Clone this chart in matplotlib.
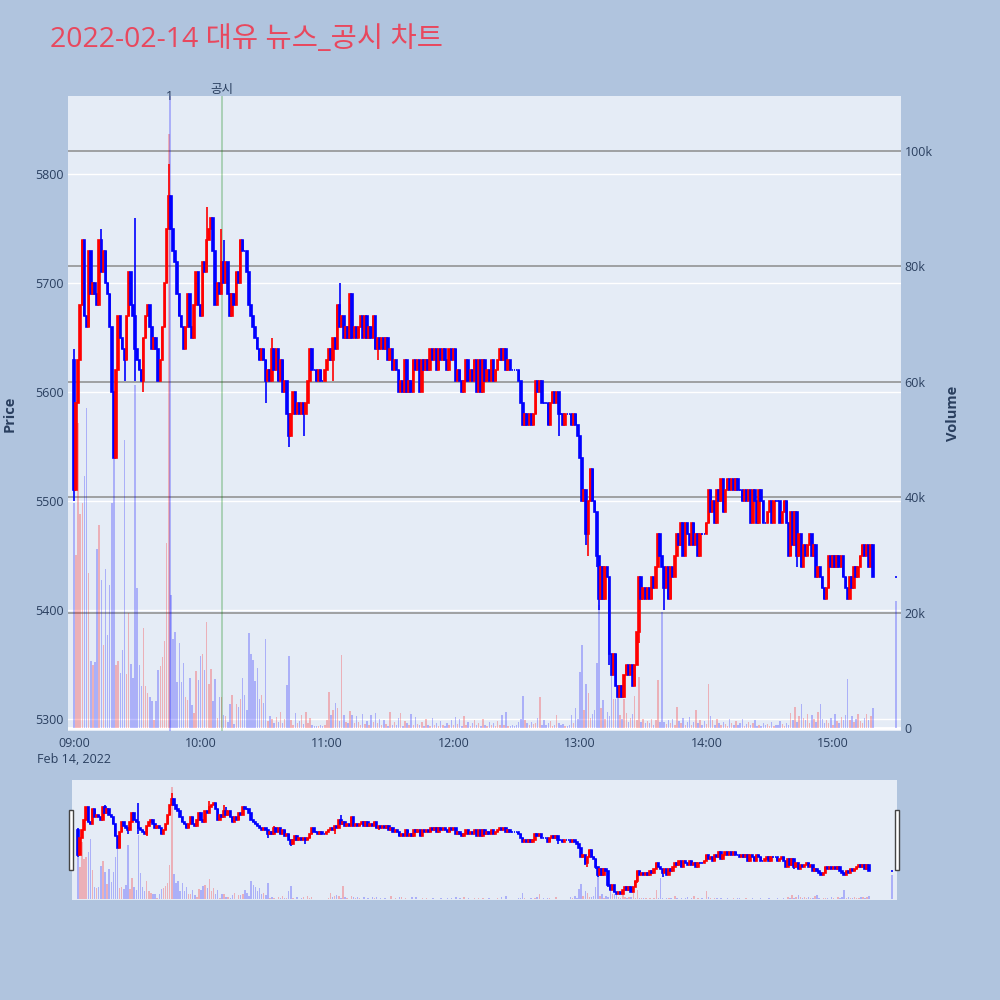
import matplotlib
matplotlib.use("Agg")
import matplotlib.pyplot as plt
import matplotlib.transforms as mtransforms
from matplotlib.patches import Rectangle
import numpy as np

plt.rcParams['font.family'] = ['Open Sans', 'Noto Sans CJK KR', 'DejaVu Sans']

TITLE = '2022-02-14 대유 뉴스_공시 차트'

# 1-minute candles from 09:00 (minute 0) to 15:19, plus the 15:30 closing auction
first_open = 5630
closes = [
    5510, 5590, 5630, 5680, 5740, 5670, 5660, 5730, 5690, 5700,
    5690, 5680, 5740, 5710, 5730, 5700, 5690, 5660, 5600, 5540,
    5620, 5670, 5650, 5640, 5630, 5670, 5710, 5680, 5670, 5640,
    5630, 5620, 5610, 5650, 5670, 5680, 5660, 5640, 5650, 5640,
    5610, 5630, 5660, 5700, 5750, 5780, 5750, 5730, 5720, 5690,
    5670, 5660, 5640, 5660, 5690, 5660, 5650, 5680, 5710, 5680,
    5670, 5720, 5710, 5740, 5750, 5760, 5730, 5680, 5700, 5690,
    5720, 5700, 5720, 5690, 5670, 5690, 5680, 5710, 5700, 5740,
    5730, 5730, 5710, 5680, 5670, 5660, 5650, 5640, 5630, 5640,
    5630, 5610, 5620, 5610, 5640, 5620, 5640, 5610, 5630, 5600,
    5610, 5580, 5560, 5580, 5600, 5580, 5590, 5580, 5590, 5580,
    5590, 5610, 5640, 5620, 5620, 5610, 5620, 5610, 5610, 5620,
    5630, 5640, 5630, 5650, 5640, 5680, 5660, 5670, 5650, 5660,
    5650, 5690, 5650, 5660, 5650, 5660, 5670, 5650, 5670, 5650,
    5660, 5650, 5670, 5640, 5650, 5640, 5650, 5640, 5650, 5630,
    5640, 5620, 5630, 5620, 5600, 5610, 5600, 5630, 5600, 5610,
    5600, 5630, 5620, 5630, 5600, 5630, 5620, 5630, 5620, 5640,
    5630, 5640, 5620, 5640, 5630, 5640, 5630, 5620, 5640, 5630,
    5640, 5610, 5620, 5610, 5600, 5610, 5630, 5610, 5620, 5610,
    5630, 5600, 5630, 5600, 5630, 5610, 5620, 5610, 5630, 5610,
    5620, 5630, 5640, 5630, 5640, 5620, 5630, 5620, 5620, 5620,
    5620, 5610, 5590, 5570, 5580, 5570, 5580, 5570, 5580, 5610,
    5600, 5610, 5590, 5590, 5590, 5570, 5590, 5600, 5590, 5600,
    5580, 5580, 5570, 5580, 5580, 5580, 5570, 5580, 5570, 5560,
    5540, 5500, 5510, 5470, 5500, 5530, 5500, 5490, 5450, 5410,
    5440, 5410, 5440, 5430, 5360, 5340, 5360, 5330, 5320, 5330,
    5320, 5340, 5350, 5340, 5350, 5330, 5350, 5380, 5430, 5410,
    5420, 5410, 5420, 5410, 5430, 5420, 5440, 5470, 5450, 5440,
    5420, 5440, 5410, 5440, 5430, 5450, 5470, 5460, 5480, 5450,
    5480, 5470, 5460, 5480, 5460, 5470, 5450, 5470, 5470, 5470,
    5480, 5510, 5490, 5500, 5480, 5510, 5500, 5520, 5490, 5510,
    5520, 5510, 5520, 5510, 5520, 5510, 5510, 5500, 5510, 5500,
    5510, 5480, 5510, 5500, 5480, 5510, 5500, 5480, 5480, 5490,
    5500, 5480, 5500, 5500, 5500, 5480, 5490, 5500, 5480, 5450,
    5490, 5460, 5490, 5450, 5470, 5440, 5460, 5450, 5460, 5470,
    5450, 5460, 5430, 5440, 5430, 5420, 5410, 5420, 5450, 5440,
    5450, 5440, 5450, 5440, 5450, 5430, 5420, 5410, 5430, 5420,
    5440, 5430, 5440, 5450, 5460, 5450, 5460, 5440, 5460, 5430,
]
auction_minute = 390
auction_price = 5430

# wicks that reach past the candle body
highs = {0: 5640, 13: 5750, 29: 5760, 45: 5810, 63: 5770, 70: 5750,
         71: 5740, 94: 5650, 126: 5700, 251: 5440}
lows = {0: 5500, 24: 5610, 29: 5610, 33: 5600, 91: 5590, 102: 5550,
        109: 5560, 123: 5610, 144: 5630, 230: 5560, 243: 5460, 244: 5450,
        248: 5440, 249: 5400, 254: 5350, 268: 5370, 280: 5400, 343: 5440,
        367: 5410}

# volume per minute, thousands of shares
volumes_k = [
    39, 30, 52.8, 37, 39, 43.7, 55.4, 26.8, 11.6, 10.9,
    11.5, 31, 35.2, 25.6, 14.4, 27.5, 16.1, 24.8, 39, 46.6,
    10.9, 11.6, 9.6, 13.6, 49.9, 9.3, 20, 11.1, 8.6, 59.5,
    24.2, 11, 7.3, 17.3, 7.3, 6.1, 5.4, 4.7, 1.4, 4.7,
    10, 10.7, 12.3, 15, 32, 103, 23, 15.4, 16.7, 7.9,
    14.8, 7.9, 11.2, 5.4, 4.8, 8.7, 3.9, 2.6, 9.8, 8.4,
    12.4, 12.9, 10.1, 18.4, 7.7, 10.3, 4.7, 8.5, 1.7, 5.3,
    5.4, 2.3, 2.1, 1.1, 4.2, 5.8, 0.7, 4.2, 3.7, 5.1,
    8.6, 5.8, 3.2, 16.5, 12.9, 11.8, 8.1, 10.4, 5.1, 5.8,
    4.4, 15.4, 1.2, 2.1, 1.5, 0.8, 1.9, 1.1, 2.8, 0.9,
    1.6, 7.5, 12.5, 1.4, 0.6, 2.6, 0.8, 1.2, 2.3, 0.7,
    2.7, 0.9, 1.8, 0.6, 0.3, 0.3, 0.4, 0.5, 0.3, 0.6,
    1.4, 6.3, 2.3, 3.2, 4.3, 3.5, 1.2, 12.6, 2.3, 1.1,
    0.8, 3.0, 2.3, 0.9, 2.1, 1.0, 0.6, 2.4, 0.7, 1.2,
    0.5, 2.2, 1.1, 2.6, 0.8, 1.6, 0.5, 1.3, 0.7, 0.4,
    2.8, 0.6, 1.0, 0.5, 1.8, 2.6, 0.4, 1.2, 0.8, 0.5,
    2.4, 0.6, 1.9, 0.7, 0.5, 1.1, 0.3, 1.5, 0.6, 0.4,
    1.7, 0.5, 0.8, 0.4, 1.2, 0.6, 0.3, 0.9, 0.5, 1.4,
    0.6, 1.9, 0.7, 1.5, 0.4, 2.1, 0.6, 1.0, 0.3, 0.8,
    1.3, 0.5, 0.9, 0.4, 1.6, 0.6, 0.3, 1.1, 0.5, 0.8,
    0.4, 1.2, 0.6, 2.2, 0.5, 2.8, 0.4, 0.3, 0.5, 0.4,
    0.6, 1.0, 1.6, 5.5, 1.3, 0.8, 0.6, 1.1, 0.7, 0.9,
    1.8, 5.3, 0.6, 1.4, 0.5, 0.9, 1.2, 0.4, 0.6, 2.3,
    0.8, 0.5, 0.7, 0.4, 0.3, 0.6, 2.3, 0.9, 3.4, 1.5,
    9.7, 14.4, 3.2, 7.7, 6.0, 1.8, 2.4, 3.1, 11.3, 21.3,
    3.4, 4.8, 1.6, 2.8, 2.1, 9.5, 5.0, 5.0, 6.5, 2.2,
    1.5, 5.0, 2.6, 1.0, 1.8, 2.4, 5.6, 1.3, 8.9, 1.1,
    1.5, 0.9, 1.2, 0.8, 1.6, 0.6, 1.4, 8.3, 1.0, 20.1,
    1.1, 0.7, 1.3, 0.9, 1.5, 0.6, 3.6, 1.2, 0.8, 1.7,
    0.5, 1.1, 1.9, 0.6, 1.0, 3.2, 0.8, 1.4, 0.5, 1.2,
    0.7, 7.7, 2.1, 1.3, 0.6, 1.6, 0.9, 0.5, 1.1, 0.7,
    0.4, 1.5, 0.8, 0.6, 1.2, 0.5, 0.9, 1.6, 0.4, 0.7,
    1.1, 0.5, 0.8, 1.3, 0.4, 0.6, 0.3, 0.9, 0.5, 0.7,
    0.4, 1.0, 0.3, 0.6, 0.5, 1.2, 0.7, 0.4, 0.9, 0.6,
    2.6, 1.4, 3.7, 1.1, 2.0, 4.2, 1.8, 1.3, 2.5, 0.9,
    2.2, 1.5, 1.1, 2.8, 4.2, 1.6, 0.8, 1.3, 0.9, 1.7,
    0.6, 2.5, 1.2, 0.8, 1.9, 1.4, 2.2, 8.5, 1.3, 2.0,
    1.1, 1.6, 2.4, 1.2, 0.9, 1.8, 2.5, 1.4, 2.0, 3.4,
]
auction_volume_k = 22.0

tick_minutes = [0, 60, 120, 180, 240, 300, 360]
tick_labels = ['09:00\nFeb 14, 2022', '10:00', '11:00', '12:00', '13:00', '14:00', '15:00']
price_ticks = [5300, 5400, 5500, 5600, 5700, 5800]
volume_ticks_k = [0, 20, 40, 60, 80, 100]
volume_tick_labels = ['0', '20k', '40k', '60k', '80k', '100k']

event_minutes = [45.5, 70.2]
event_labels = ['1', '공시']
event_colors = ['blue', 'green']

PAPER = '#B0C4DE'
PLOT_BG = '#E5ECF6'
TEXT = '#2a3f5f'
UP = '#FF0000'
DOWN = '#0000FF'
UP_VOL = (1.0, 0.0, 0.0, 0.25)
DOWN_VOL = (0.0, 0.0, 1.0, 0.25)

# assemble OHLC
n = len(closes)
minutes = np.r_[np.arange(n), auction_minute]
close_arr = np.array(closes + [auction_price], dtype=float)
open_arr = np.array([first_open] + closes[:-1] + [auction_price], dtype=float)
high_arr = np.maximum(open_arr, close_arr)
low_arr = np.minimum(open_arr, close_arr)
for m, v in highs.items():
    high_arr[m] = max(high_arr[m], v)
for m, v in lows.items():
    low_arr[m] = min(low_arr[m], v)
vol_arr = np.array(volumes_k + [auction_volume_k]) * 1000
rising = close_arr > open_arr

XLIM = (-2.8, 392.3)
PRICE_LIM = (5289, 5872)
VOL_LIM = (-520, 109500)


def draw_chart(ax_v, ax_p):
    vol_colors = [UP_VOL if r else DOWN_VOL for r in rising]
    ax_v.bar(minutes, vol_arr, width=0.7, color=vol_colors, linewidth=0, zorder=2)
    cols = [UP if r else DOWN for r in rising]
    ax_p.vlines(minutes, low_arr, high_arr, colors=cols, linewidth=1.2, zorder=3)
    ax_p.bar(minutes, np.abs(close_arr - open_arr), bottom=np.minimum(open_arr, close_arr),
             width=0.7, color=cols, edgecolor=cols, linewidth=1.2, zorder=4)
    ax_v.set_xlim(*XLIM)
    ax_v.set_ylim(*VOL_LIM)
    ax_p.set_ylim(*PRICE_LIM)
    for a in (ax_v, ax_p):
        for s in a.spines.values():
            s.set_visible(False)


fig = plt.figure(figsize=(10, 10), dpi=100)
fig.patch.set_facecolor(PAPER)

# main chart: volume on the base axes (drawn first), price on the twin
ax_v = fig.add_axes([0.068, 0.269, 0.833, 0.635])
ax_v.set_facecolor(PLOT_BG)
ax_p = ax_v.twinx()
draw_chart(ax_v, ax_p)

ax_p.yaxis.set_ticks_position('left')
ax_p.yaxis.set_label_position('left')
ax_v.yaxis.set_ticks_position('right')
ax_p.set_yticks(price_ticks)
ax_v.set_yticks([v * 1000 for v in volume_ticks_k])
ax_v.set_yticklabels(volume_tick_labels)
ax_v.set_xticks(tick_minutes)
ax_v.set_xticklabels(tick_labels, linespacing=1.35)
ax_p.tick_params(axis='y', length=0, pad=3, labelsize=9, labelcolor=TEXT)
ax_v.tick_params(axis='y', length=0, pad=2.5, labelsize=9, labelcolor=TEXT)
ax_v.tick_params(axis='x', length=0, pad=4, labelsize=9, labelcolor=TEXT)

# grids: white for price, grey for volume, white zero line
price_tr = mtransforms.blended_transform_factory(ax_v.transAxes, ax_p.transData)
for p in price_ticks:
    ax_v.plot([0, 1], [p, p], transform=price_tr, color='white', linewidth=1.0, zorder=0.6)
for v in volume_ticks_k[1:]:
    ax_v.axhline(v * 1000, color='#8c8c8c', linewidth=1.1, zorder=0.7)
ax_v.axhline(0, color='white', linewidth=2.0, zorder=0.7)

# event markers
top_tr = mtransforms.blended_transform_factory(ax_v.transData, ax_v.transAxes)
for m, lab, c in zip(event_minutes, event_labels, event_colors):
    ax_v.axvline(m, color=c, alpha=0.3, linewidth=1.2, zorder=3)
    if lab == '1':
        ax_v.text(m, 0.9985, lab, transform=top_tr, ha='center', va='center',
                  fontsize=9, color=TEXT, clip_on=False, zorder=10)
    else:
        ax_v.text(m, 1.0, lab, transform=top_tr, ha='center', va='bottom',
                  fontsize=9, color=TEXT, clip_on=False, zorder=10)

# range slider
ax_s = fig.add_axes([0.072, 0.100, 0.825, 0.120])
ax_s.set_facecolor(PLOT_BG)
ax_s2 = ax_s.twinx()
draw_chart(ax_s, ax_s2)
for a in (ax_s, ax_s2):
    a.set_xticks([])
    a.set_yticks([])
for hx in (69, 895):
    fig.patches.append(Rectangle((hx / 1000, 0.130), 0.004, 0.060, transform=fig.transFigure,
                                 facecolor='white', edgecolor='#444444', linewidth=1.0, zorder=10))

# texts
fig.text(0.050, 0.960, TITLE, ha='left', va='center', fontsize=20.5, color='#E8485E')
fig.text(0.010, 0.5865, 'Price', rotation=90, ha='center', va='center',
         fontsize=10.5, fontweight='bold', color=TEXT)
fig.text(0.953, 0.5865, 'Volume', rotation=90, ha='center', va='center',
         fontsize=10.5, fontweight='bold', color=TEXT)

fig.savefig('out.png', dpi=100, facecolor=PAPER)
